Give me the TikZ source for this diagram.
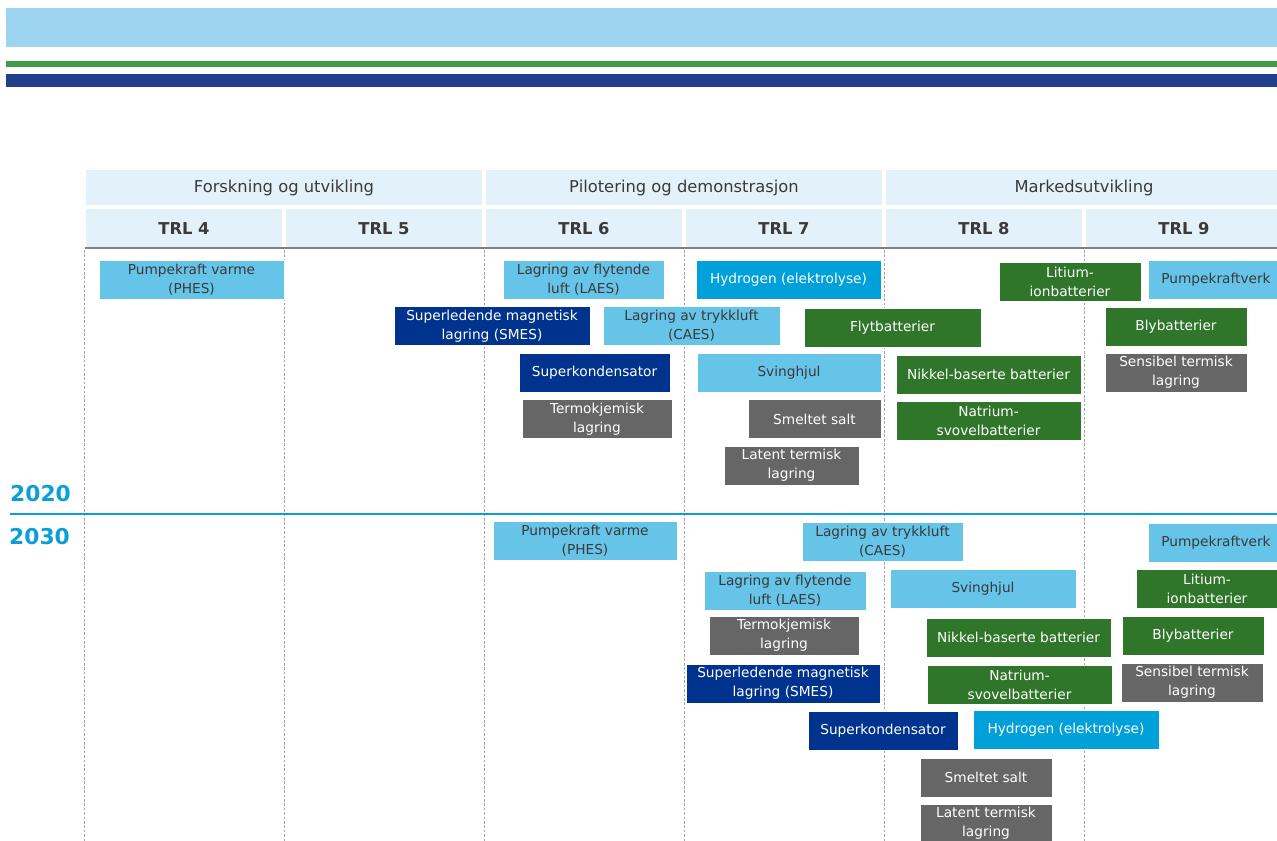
\documentclass[tikz,border=0pt]{standalone}
\usepackage{fontspec}
\setmainfont{DejaVu Sans}
\usepackage{tikz}

\definecolor{skyband}{HTML}{9DD5F0}
\definecolor{greenband}{HTML}{3F9B45}
\definecolor{navyband}{HTML}{233F8B}
\definecolor{headbg}{HTML}{E3F2FA}
\definecolor{lightblue}{HTML}{66C4E9}
\definecolor{midblue}{HTML}{00A0DA}
\definecolor{darkblue}{HTML}{00338D}
\definecolor{boxgreen}{HTML}{2F752A}
\definecolor{boxgray}{HTML}{666666}
\definecolor{yearblue}{HTML}{0A9FD9}
\definecolor{txtgray}{HTML}{3A3A3A}

\tikzset{
	box/.style={inner sep=0pt, minimum height=0.78cm, align=center,
		draw=white, line width=0.3pt, font=\fontsize{7.8}{10.8}\selectfont},
	wd/.style={minimum width=#1*0.02cm},
	lightbox/.style={box, fill=lightblue, text=txtgray},
	hydrobox/.style={box, fill=midblue, text=white},
	darkbox/.style={box, fill=darkblue, text=white},
	greenbox/.style={box, fill=boxgreen, text=white},
	graybox/.style={box, fill=boxgray, text=white},
	phase/.style={fill=headbg, inner sep=0pt, minimum width=7.92cm, minimum height=0.7cm,
		text=txtgray, font=\fontsize{9.3}{11}\selectfont},
	trl/.style={fill=headbg, inner sep=0pt, minimum width=3.94cm, minimum height=0.78cm,
		text=txtgray, font=\fontsize{9.3}{11}\selectfont\bfseries},
	year/.style={text=yearblue, font=\fontsize{12.4}{14}\selectfont\bfseries},
	gridline/.style={gray!70, line width=0.5pt, dash pattern=on 1.5pt off 1pt},
}

\begin{document}
\begin{tikzpicture}[x=0.02cm, y=-0.02cm]
	\useasboundingbox (0,0) rectangle (1277,841);
	\clip (0,0) rectangle (1277,841);

	% bands at the top
	\fill[skyband] (6,8) rectangle (1280,47);
	\fill[greenband] (6,61) rectangle (1280,67);
	\fill[navyband] (6,74) rectangle (1280,87);

	% phases and TRL levels
	\node[phase] (forsk) at (284,187.5) {Forskning og utvikling};
	\node[phase] (pilot) at (684,187.5) {Pilotering og demonstrasjon};
	\node[phase] (marked) at (1084,187.5) {Markedsutvikling};
	\foreach \n [count=\i from 0] in {4,...,9}
		\node[trl] (trl\n) at (184+200*\i,228.5) {TRL \n};
	\draw[gray, line width=1.1pt] (trl4.south west) -- (trl9.south east);

	% columns
	\foreach \x in {84,284,484,684,884,1084}
		\draw[gridline] (\x,250) -- (\x,845);

	% years
	\node[year] (y2020) at (40.5,494) {2020};
	\node[year] (y2030) at (39.5,537) {2030};
	\draw[yearblue, line width=1.7pt] (10,514) -- (1280,514);

	% 2020
	\node[lightbox, wd=185] (phesA) at (191.5,279.5) {Pumpekraft varme\\(PHES)};
	\node[lightbox, wd=161] (laesA) at (583.5,279.5) {Lagring av flytende\\luft (LAES)};
	\node[hydrobox, wd=185] (hydroA) at (788.5,280) {Hydrogen (elektrolyse)};
	\node[greenbox, wd=142] (litiumA) at (1070,281.5) {Litium-\\ionbatterier};
	\node[lightbox, wd=136] (pumpeA) at (1216,280) {Pumpekraftverk};
	\node[darkbox, wd=196] (smesA) at (492,326) {Superledende magnetisk\\lagring (SMES)};
	\node[lightbox, wd=177] (caesA) at (691.5,326) {Lagring av trykkluft\\(CAES)};
	\node[greenbox, wd=177] (flytA) at (892.5,327.5) {Flytbatterier};
	\node[greenbox, wd=142] (blyA) at (1176,327) {Blybatterier};
	\node[darkbox, wd=151] (superA) at (594.5,372.5) {Superkondensator};
	\node[lightbox, wd=184] (svingA) at (789,372.5) {Svinghjul};
	\node[greenbox, wd=185] (nikkelA) at (988.5,374.5) {Nikkel-baserte batterier};
	\node[graybox, wd=142] (sensA) at (1176,372.5) {Sensibel termisk\\lagring};
	\node[graybox, wd=150] (termoA) at (597,419) {Termokjemisk\\lagring};
	\node[graybox, wd=133] (saltA) at (814.5,419) {Smeltet salt};
	\node[greenbox, wd=185] (natriumA) at (988.5,420.5) {Natrium-\\svovelbatterier};
	\node[graybox, wd=135] (latentA) at (791.5,465.5) {Latent termisk\\lagring};

	% 2030
	\node[lightbox, wd=184] (phesB) at (585,541) {Pumpekraft varme\\(PHES)};
	\node[lightbox, wd=161] (caesB) at (882.5,541.5) {Lagring av trykkluft\\(CAES)};
	\node[lightbox, wd=136] (pumpeB) at (1216,542.5) {Pumpekraftverk};
	\node[lightbox, wd=162] (laesB) at (785,590.5) {Lagring av flytende\\luft (LAES)};
	\node[lightbox, wd=186] (svingB) at (983,588.5) {Svinghjul};
	\node[greenbox, wd=142] (litiumB) at (1207,588.5) {Litium-\\ionbatterier};
	\node[graybox, wd=150] (termoB) at (784,635.5) {Termokjemisk\\lagring};
	\node[greenbox, wd=185] (nikkelB) at (1018.5,637.5) {Nikkel-baserte batterier};
	\node[greenbox, wd=142] (blyB) at (1193,635.5) {Blybatterier};
	\node[darkbox, wd=194] (smesB) at (783,683.5) {Superledende magnetisk\\lagring (SMES)};
	\node[greenbox, wd=185] (natriumB) at (1019.5,684.5) {Natrium-\\svovelbatterier};
	\node[graybox, wd=142] (sensB) at (1192,682.5) {Sensibel termisk\\lagring};
	\node[darkbox, wd=150] (superB) at (883,730.5) {Superkondensator};
	\node[hydrobox, wd=186] (hydroB) at (1066,730) {Hydrogen (elektrolyse)};
	\node[graybox, wd=132] (saltB) at (986,777.5) {Smeltet salt};
	\node[graybox, wd=132] (latentB) at (986,823.5) {Latent termisk\\lagring};
\end{tikzpicture}
\end{document}
